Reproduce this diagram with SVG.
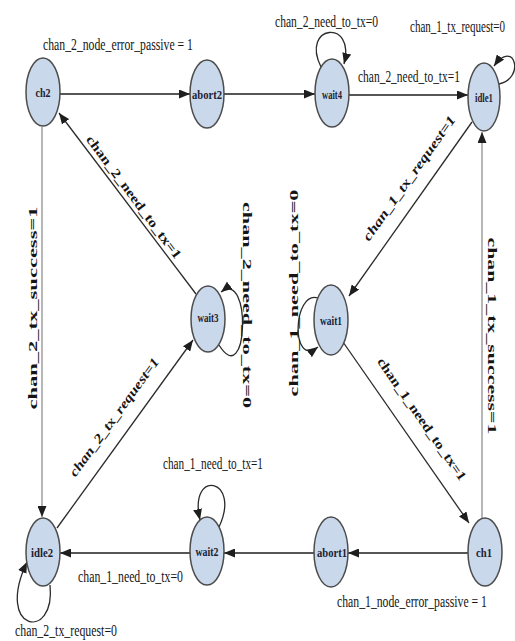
<svg xmlns="http://www.w3.org/2000/svg" width="515" height="641" viewBox="0 0 515 641">
<style>
.node ellipse{fill:#c9d8ea;stroke:#4d4d4d;stroke-width:1.5}
.node text{font-family:"Liberation Serif",serif;font-weight:bold;font-size:13px;fill:#1c2233;text-anchor:middle;dominant-baseline:central}
.e{fill:none;stroke:#2a2a2a;stroke-width:1.3}
.eh{fill:none;stroke:#1e1e1e;stroke-width:1.7}
.ev{fill:none;stroke:#7a7a7a;stroke-width:1.1}
.lbl{font-family:"Liberation Serif",serif;font-size:11.7px;fill:#151515}
.rl{font-family:"Liberation Serif",serif;font-weight:bold;font-size:13px;fill:#151515;text-anchor:middle;dominant-baseline:central}
.it{font-style:italic}
</style>
<defs>
<marker id="arr" markerUnits="userSpaceOnUse" markerWidth="12" markerHeight="9" refX="11" refY="4.5" orient="auto">
<path d="M0,0 L11,4.5 L0,9 z" fill="#1e1e1e"/>
</marker>
</defs>
<rect width="515" height="641" fill="#ffffff"/>
<g id="connectors">
<path class="eh" d="M60,94 L190,94" marker-end="url(#arr)"/>
<path class="eh" d="M224,94 L315,94" marker-end="url(#arr)"/>
<path class="eh" d="M349,95 L468,95" marker-end="url(#arr)"/>
<path class="e" d="M321,67 C300,25 356,18 344,64" marker-end="url(#arr)"/>
<path class="e" d="M499,84 C526,78 514,38 494,66" marker-end="url(#arr)"/>
<path class="e" d="M472,122 L349,296" marker-end="url(#arr)"/>
<path class="e" d="M318,298 C293,290 290,368 318,347" marker-end="url(#arr)"/>
<path class="e" d="M343,342 L469,523" marker-end="url(#arr)"/>
<path class="ev" d="M482,518 L482,132" marker-end="url(#arr)"/>
<path class="eh" d="M468,553 L348,553" marker-end="url(#arr)"/>
<path class="eh" d="M314,553 L224,553" marker-end="url(#arr)"/>
<path class="e" d="M219,527 C242,478 188,468 200,520" marker-end="url(#arr)"/>
<path class="eh" d="M190,553 L60,553" marker-end="url(#arr)"/>
<path class="e" d="M50,585 C56,642 -6,632 27,562" marker-end="url(#arr)"/>
<path class="ev" d="M42,127 L42,517" marker-end="url(#arr)"/>
<path class="e" d="M57,528 L193,340" marker-end="url(#arr)"/>
<path class="e" d="M196,294 L59,113" marker-end="url(#arr)"/>
<path class="e" d="M219,345 C248,392 252,268 221,292" marker-end="url(#arr)"/>
</g>
<g id="labels">
<text class="lbl" transform="translate(43,50) scale(1,1.45)" textLength="150" lengthAdjust="spacingAndGlyphs">chan_2_node_error_passive = 1</text>
<text class="lbl" transform="translate(275,27) scale(1,1.45)" textLength="103" lengthAdjust="spacingAndGlyphs">chan_2_need_to_tx=0</text>
<text class="lbl" transform="translate(358,82) scale(1,1.45)" textLength="102" lengthAdjust="spacingAndGlyphs">chan_2_need_to_tx=1</text>
<text class="lbl" transform="translate(410,32) scale(1,1.45)" textLength="95" lengthAdjust="spacingAndGlyphs">chan_1_tx_request=0</text>
<text class="lbl" transform="translate(337,607) scale(1,1.45)" textLength="150" lengthAdjust="spacingAndGlyphs">chan_1_node_error_passive = 1</text>
<text class="lbl" transform="translate(163,469) scale(1,1.45)" textLength="100" lengthAdjust="spacingAndGlyphs">chan_1_need_to_tx=1</text>
<text class="lbl" transform="translate(78,582) scale(1,1.45)" textLength="105" lengthAdjust="spacingAndGlyphs">chan_1_need_to_tx=0</text>
<text class="lbl" transform="translate(15,636) scale(1,1.45)" textLength="102" lengthAdjust="spacingAndGlyphs">chan_2_tx_request=0</text>
<text class="rl" transform="translate(32.5,308) rotate(-90)" textLength="203" lengthAdjust="spacingAndGlyphs">chan_2_tx_success=1</text>
<text class="rl" transform="translate(247,305) rotate(90)" textLength="206" lengthAdjust="spacingAndGlyphs">chan_2_need_to_tx=0</text>
<text class="rl" transform="translate(293,293) rotate(-90)" textLength="207" lengthAdjust="spacingAndGlyphs">chan_1_need_to_tx=0</text>
<text class="rl" transform="translate(492,336) rotate(90)" textLength="197" lengthAdjust="spacingAndGlyphs">chan_1_tx_success=1</text>
<text class="rl" transform="translate(134,197) rotate(53.3)" textLength="150" lengthAdjust="spacingAndGlyphs">chan_2_need_to_tx=1</text>
<text class="rl it" transform="translate(114,417) rotate(-54)" textLength="143" lengthAdjust="spacingAndGlyphs">chan_2_tx_request=1</text>
<text class="rl it" transform="translate(409,178) rotate(-54.5)" textLength="150" lengthAdjust="spacingAndGlyphs">chan_1_tx_request=1</text>
<text class="rl" transform="translate(422,419) rotate(55.2)" textLength="146" lengthAdjust="spacingAndGlyphs">chan_1_need_to_tx=1</text>
</g>
<g id="ch2" class="node"><ellipse cx="43" cy="92" rx="17" ry="34"/><text x="43" y="92" textLength="15" lengthAdjust="spacingAndGlyphs">ch2</text></g>
<g id="abort2" class="node"><ellipse cx="207" cy="94" rx="17" ry="34"/><text x="207" y="94" textLength="30" lengthAdjust="spacingAndGlyphs">abort2</text></g>
<g id="wait4" class="node"><ellipse cx="332" cy="93" rx="17" ry="34"/><text x="332" y="94" textLength="20" lengthAdjust="spacingAndGlyphs">wait4</text></g>
<g id="idle1" class="node"><ellipse cx="484" cy="97" rx="16" ry="34"/><text x="484" y="97" textLength="18" lengthAdjust="spacingAndGlyphs">idle1</text></g>
<g id="wait3" class="node"><ellipse cx="208" cy="319" rx="17" ry="33"/><text x="208" y="317" textLength="21" lengthAdjust="spacingAndGlyphs">wait3</text></g>
<g id="wait1" class="node"><ellipse cx="331" cy="320" rx="17" ry="35"/><text x="331" y="320" textLength="22" lengthAdjust="spacingAndGlyphs">wait1</text></g>
<g id="ch1" class="node"><ellipse cx="485" cy="552" rx="17" ry="34"/><text x="484" y="552" textLength="16" lengthAdjust="spacingAndGlyphs">ch1</text></g>
<g id="abort1" class="node"><ellipse cx="331" cy="552" rx="17" ry="35"/><text x="332" y="552" textLength="30" lengthAdjust="spacingAndGlyphs">abort1</text></g>
<g id="wait2" class="node"><ellipse cx="207" cy="551" rx="17" ry="34"/><text x="207" y="551" textLength="23" lengthAdjust="spacingAndGlyphs">wait2</text></g>
<g id="idle2" class="node"><ellipse cx="43" cy="552" rx="17" ry="34"/><text x="42" y="552" textLength="22" lengthAdjust="spacingAndGlyphs">idle2</text></g>
</svg>
